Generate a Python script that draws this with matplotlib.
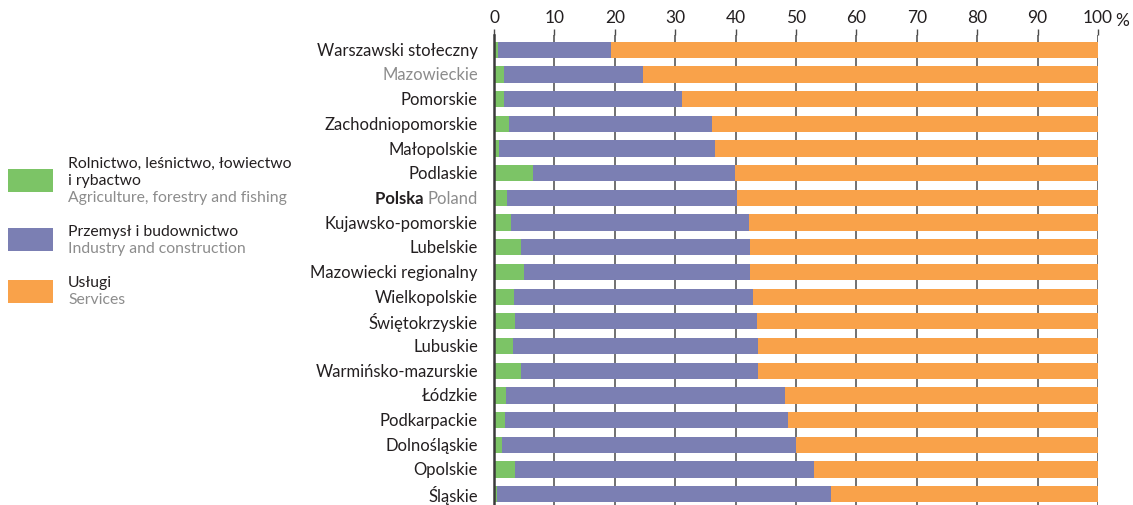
import matplotlib
matplotlib.use("Agg")
import matplotlib.pyplot as plt
from matplotlib.patches import Rectangle

plt.rcParams['font.family'] = ['Lato', 'DejaVu Sans']

regions = [
    "Warszawski stołeczny", "Mazowieckie", "Pomorskie", "Zachodniopomorskie",
    "Małopolskie", "Podlaskie", "Polska", "Kujawsko-pomorskie", "Lubelskie",
    "Mazowiecki regionalny", "Wielkopolskie", "Świętokrzyskie", "Lubuskie",
    "Warmińsko-mazurskie", "Łódzkie", "Podkarpackie", "Dolnośląskie",
    "Opolskie", "Śląskie",
]
agriculture = [0.6, 1.6, 1.6, 2.5, 0.9, 6.5, 2.1, 2.8, 4.5, 5.0, 3.3, 3.5, 3.1,
               4.5, 2.0, 1.8, 1.3, 3.5, 0.5]
industry = [18.8, 23.1, 29.5, 33.6, 35.7, 33.4, 38.1, 39.4, 37.9, 37.4, 39.6,
            40.0, 40.6, 39.2, 46.2, 46.9, 48.7, 49.5, 55.3]
services = [round(100 - a - i, 1) for a, i in zip(agriculture, industry)]

x_ticks = [0, 10, 20, 30, 40, 50, 60, 70, 80, 90, 100]

GREEN = "#7cc466"
PURPLE = "#7b7fb3"
ORANGE = "#f9a24a"
DARK = "#231f20"
GREY = "#8c8c8c"
FS = 12
FS_TICK = 12.5
FS_LEG = 11.3

W, H = 1133, 506
fig = plt.figure(figsize=(W / 100, H / 100), dpi=100)
ax = fig.add_axes([494 / W, 0, (1098 - 494) / W, 1 - 36 / H])

ypos = list(range(len(regions)))
bh = 0.66
ax.barh(ypos, agriculture, height=bh, color=GREEN, zorder=3, linewidth=0)
ax.barh(ypos, industry, left=agriculture, height=bh, color=PURPLE, zorder=3, linewidth=0)
left_s = [a + i for a, i in zip(agriculture, industry)]
ax.barh(ypos, services, left=left_s, height=bh, color=ORANGE, zorder=3, linewidth=0)

ax.set_xlim(0, 100)
ax.set_ylim(18.44, -0.6)

# top axis with grid between bars
ax.xaxis.tick_top()
ax.set_xticks(x_ticks)
ax.set_xticklabels([str(t) for t in x_ticks], fontsize=FS_TICK, color=DARK)
ax.tick_params(axis='x', length=4, width=1, color="#4a4a4a", pad=3)
ax.grid(axis='x', color="#4a4a4a", linewidth=1.1, zorder=0)
ax.annotate("%", xy=(100, 1), xycoords=('data', 'axes fraction'),
            xytext=(17, 7), textcoords='offset pixels',
            ha='left', va='bottom', fontsize=FS_TICK, color=DARK)

for s in ['top', 'right', 'bottom']:
    ax.spines[s].set_visible(False)
ax.spines['left'].set_color("#3a3a3a")
ax.spines['left'].set_linewidth(1.8)
ax.spines['left'].set_zorder(4)

# category labels
ax.set_yticks(ypos)
ax.set_yticklabels([])
ax.tick_params(axis='y', length=0)
for y, name in zip(ypos, regions):
    if name == "Polska":
        t = ax.annotate("Poland", xy=(0, y), xycoords=('axes fraction', 'data'),
                        xytext=(-16, 0), textcoords='offset pixels',
                        ha='right', va='center', fontsize=FS, color=GREY)
        ax.annotate("Polska ", xy=(0, 0.5), xycoords=t, ha='right', va='center',
                    fontsize=FS, color=DARK, fontweight='bold')
    else:
        ax.annotate(name, xy=(0, y), xycoords=('axes fraction', 'data'),
                    xytext=(-16, 0), textcoords='offset pixels',
                    ha='right', va='center', fontsize=FS,
                    color=GREY if name == "Mazowieckie" else DARK)

# legend
legend_items = [
    (GREEN, 170, ["Rolnictwo, leśnictwo, łowiectwo", "i rybactwo"],
     "Agriculture, forestry and fishing", 164),
    (PURPLE, 229, ["Przemysł i budownictwo"], "Industry and construction", 232),
    (ORANGE, 281, ["Usługi"], "Services", 283),
]
for color, top, pl_lines, en, first_y in legend_items:
    fig.patches.append(Rectangle((8 / W, 1 - (top + 23) / H), 45 / W, 23 / H,
                                 transform=fig.transFigure, color=color, linewidth=0))
    y = first_y
    for line in pl_lines:
        fig.text(68 / W, 1 - y / H, line, ha='left', va='center', fontsize=FS_LEG, color=DARK)
        y += 17
    fig.text(68 / W, 1 - y / H, en, ha='left', va='center', fontsize=FS_LEG, color=GREY)

fig.savefig("out.png", dpi=100)
